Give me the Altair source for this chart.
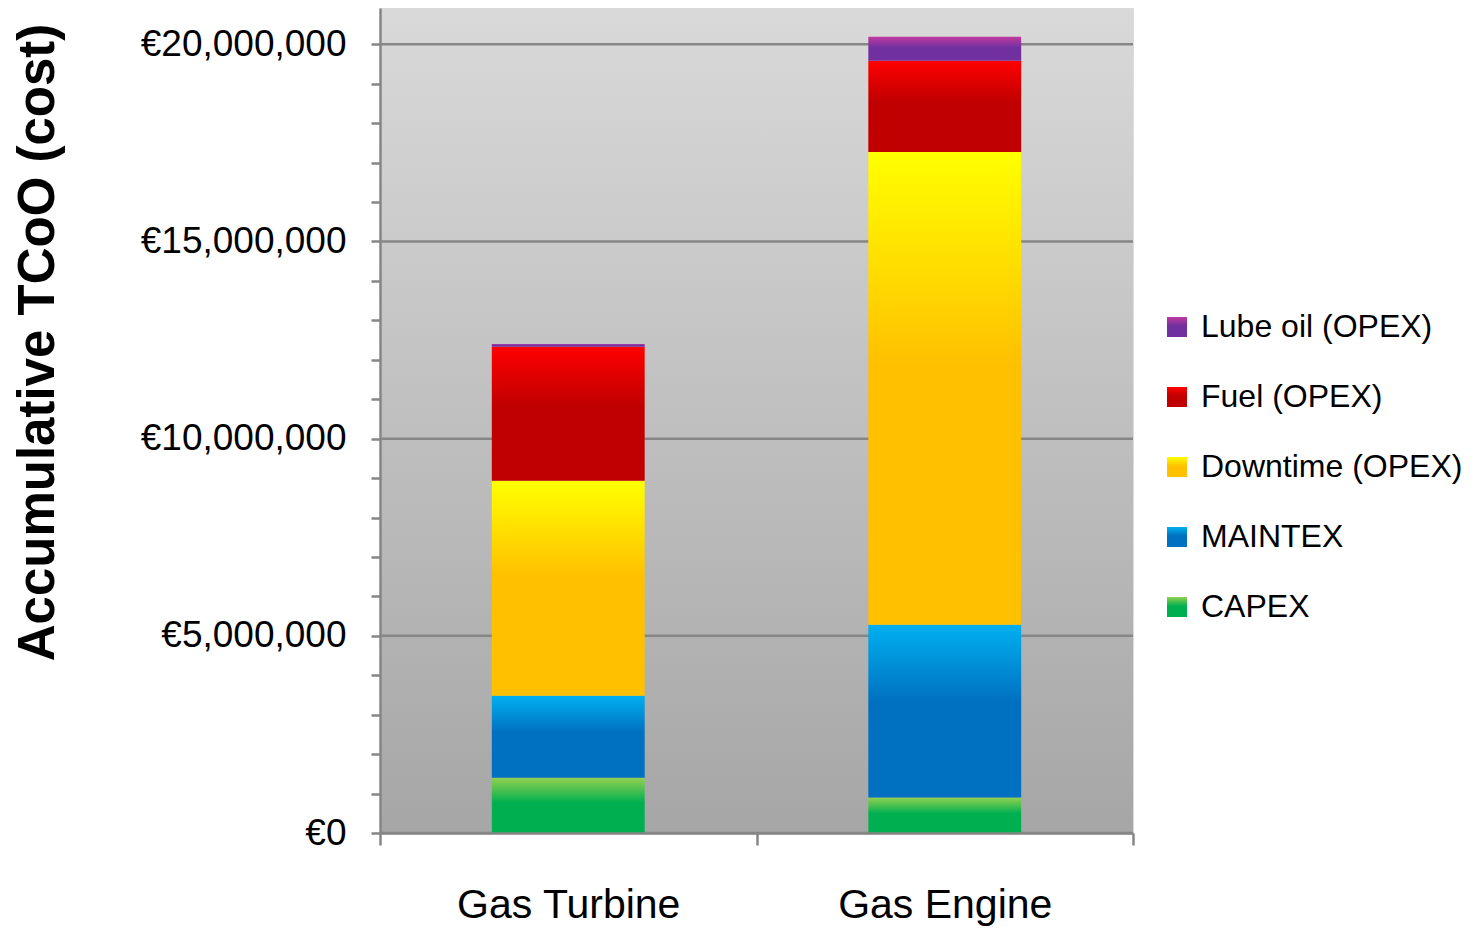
import altair as alt
import pandas as pd

machines = ["Gas Turbine", "Gas Engine"]
components = ["CAPEX", "MAINTEX", "Downtime (OPEX)", "Fuel (OPEX)", "Lube oil (OPEX)"]
gas_turbine = [1.40e6, 2.08e6, 5.45e6, 3.40e6, 0.07e6]
gas_engine = [0.90e6, 4.38e6, 11.99e6, 2.31e6, 0.61e6]
top_colors = ["#92d050", "#00b0f0", "#ffff00", "#ff0000", "#c0399f"]
base_colors = ["#00b050", "#0070c0", "#ffc000", "#c00000", "#7030a0"]
grid_values = [0, 5e6, 10e6, 15e6, 20e6]
tick_values = [i * 1e6 for i in range(0, 21)]

rows = []
for m, vals in zip(machines, [gas_turbine, gas_engine]):
    for i, (c, v) in enumerate(zip(components, vals)):
        rows.append({"machine": m, "component": c, "value": v, "rank": i})
df = pd.DataFrame(rows)

def grad_expr(top, base):
    return alt.ExprRef(
        "{gradient: 'linear', x1: 0, y1: 0, x2: 0, y2: 1, stops: ["
        "{offset: 0, color: '%s'}, {offset: 0.45, color: '%s'}, {offset: 1, color: '%s'}]}"
        % (top, base, base)
    )

legend_order = components[::-1]
legend_ranges = [grad_expr(top_colors[components.index(c)], base_colors[components.index(c)])
                 for c in legend_order]

W, H = 753, 825
FONT = "Liberation Sans"
ymax = 20.92e6
yscale = alt.Scale(domain=[0, ymax], nice=False, zero=True)

yaxis = alt.Axis(
    values=tick_values, grid=False,
    labelExpr="datum.value % 5000000 === 0 ? '€' + format(datum.value, ',') : ''",
    labelOverlap=False, labelFlush=False, labelLimit=400,
    domainColor="#868686", domainWidth=2.5,
    tickColor="#868686", tickWidth=2.5, tickSize=9,
    labelFont=FONT, labelFontSize=37, labelColor="black", labelPadding=25,
    title="Accumulative TCoO (cost)", titleFont=FONT, titleFontSize=51,
    titleFontWeight="bold", titleColor="black", titleAngle=-90,
    titleX=-367, titleY=334, titleAlign="center", titleBaseline="top",
    titleLimit=900, zindex=1,
)

background = alt.Chart(pd.DataFrame({"a": [0]})).mark_rect(
    color=alt.Gradient(
        gradient="linear",
        stops=[alt.GradientStop(color="#d9d9d9", offset=0),
               alt.GradientStop(color="#a6a6a6", offset=1)],
        x1=0, x2=0, y1=0, y2=1,
    )
).encode(x=alt.value(0), x2=alt.value(W), y=alt.value(0), y2=alt.value(H))

grid = alt.Chart(pd.DataFrame({"v": grid_values})).mark_rule(
    color="#868686", strokeWidth=2.5
).encode(y=alt.Y("v:Q", scale=yscale, axis=yaxis))

bars = alt.Chart(df).mark_bar(width=alt.RelativeBandSize(0.406)).encode(
    x=alt.X(
        "machine:N", sort=machines,
        scale=alt.Scale(paddingInner=0, paddingOuter=0),
        axis=alt.Axis(
            title=None, labelAngle=0, tickBand="extent",
            domainColor="#868686", domainWidth=2.5,
            tickColor="#868686", tickWidth=2.5, tickSize=12,
            labelFont=FONT, labelFontSize=41, labelColor="black",
            labelPadding=40, labelLimit=500, zindex=1,
        ),
    ),
    y=alt.Y("sum(value):Q", scale=yscale, axis=yaxis),
    color=alt.Color(
        "component:N",
        scale=alt.Scale(domain=legend_order, range=legend_ranges),
        legend=alt.Legend(
            title=None, orient="none", legendX=781, legendY=303,
            symbolType="square", symbolSize=400, symbolStrokeWidth=0,
            labelFont=FONT, labelFontSize=32, labelColor="black",
            labelOffset=8, rowPadding=38, labelLimit=400,
        ),
    ),
    order=alt.Order("rank:Q", sort="ascending"),
)

chart = alt.layer(background, grid, bars).properties(
    width=W, height=H,
    autosize=alt.AutoSizeParams(type="none"),
    padding={"left": 372, "top": 0, "right": 342, "bottom": 93},
).configure_view(stroke=None).configure(background="white")

chart.save("out.html", embed_options={"renderer": "svg", "actions": False})
